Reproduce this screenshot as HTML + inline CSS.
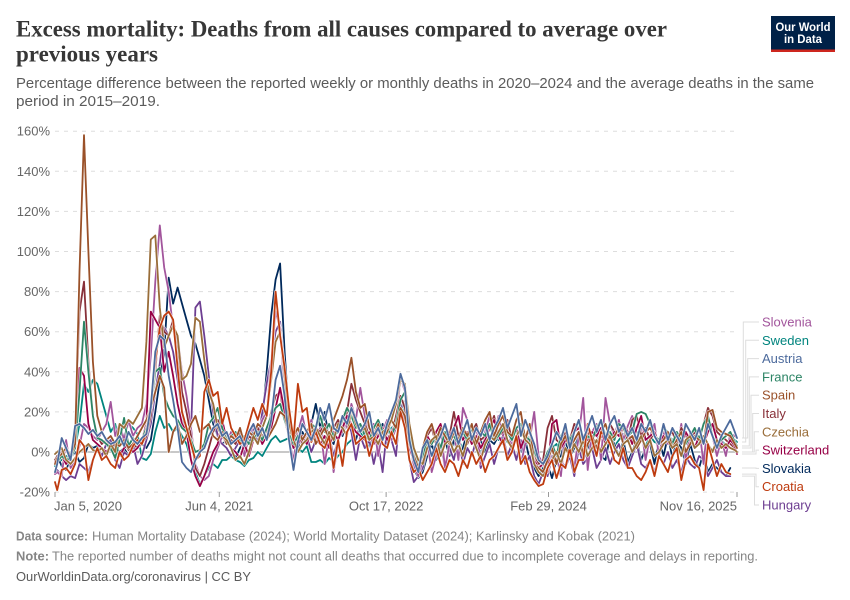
<!DOCTYPE html>
<html lang="en">
<head>
<meta charset="utf-8">
<title>Excess mortality chart</title>
<style>
html,body{margin:0;padding:0;background:#fff;}
svg{display:block;font-family:"Liberation Sans",sans-serif;}
</style>
</head>
<body>
<svg id="chart" xmlns="http://www.w3.org/2000/svg" width="850" height="600" viewBox="0 0 850 600">
  <rect x="0" y="0" width="850" height="600" fill="#ffffff"/>
  <g font-family="'Liberation Serif',serif" font-weight="700" font-size="23.5" fill="#373737">
    <text x="16" y="36.5" textLength="651" lengthAdjust="spacingAndGlyphs">Excess mortality: Deaths from all causes compared to average over</text>
    <text x="16" y="61.5" textLength="142" lengthAdjust="spacingAndGlyphs">previous years</text>
  </g>
  <g font-size="14.5" fill="#5b5b5b">
    <text x="16" y="88" textLength="798" lengthAdjust="spacingAndGlyphs">Percentage difference between the reported weekly or monthly deaths in 2020–2024 and the average deaths in the same</text>
    <text x="16" y="106" textLength="144" lengthAdjust="spacingAndGlyphs">period in 2015–2019.</text>
  </g>
  <g>
    <rect x="771" y="16" width="64" height="36" fill="#002147"/>
    <rect x="771" y="49.5" width="64" height="2.5" fill="#ce261e"/>
    <text x="803" y="31" text-anchor="middle" fill="#ffffff" font-size="12" font-weight="700" textLength="55" lengthAdjust="spacingAndGlyphs">Our World</text>
    <text x="803" y="43" text-anchor="middle" fill="#ffffff" font-size="12" font-weight="700" textLength="38" lengthAdjust="spacingAndGlyphs">in Data</text>
  </g>
  <g id="grid"></g>
  <g id="yticks" font-size="13" fill="#666666" text-anchor="end"></g>
  <g id="xticks" font-size="13" fill="#666666"></g>
  <g id="lines" fill="none" stroke-linejoin="round" stroke-linecap="round"></g>
  <g id="connectors" fill="none" stroke="#dddddd" stroke-width="1"></g>
  <g id="legend" font-size="13"></g>
  <g font-size="13" fill="#858585">
    <text x="16" y="540.5" font-weight="700" textLength="72" lengthAdjust="spacingAndGlyphs">Data source:</text>
    <text x="92" y="540.5" textLength="543" lengthAdjust="spacingAndGlyphs">Human Mortality Database (2024); World Mortality Dataset (2024); Karlinsky and Kobak (2021)</text>
    <text x="16" y="560.5" font-weight="700" textLength="33" lengthAdjust="spacingAndGlyphs">Note:</text>
    <text x="52" y="560.5" textLength="706" lengthAdjust="spacingAndGlyphs">The reported number of deaths might not count all deaths that occurred due to incomplete coverage and delays in reporting.</text>
    <text x="16" y="581" fill="#5b5b5b" textLength="235" lengthAdjust="spacingAndGlyphs">OurWorldinData.org/coronavirus | CC BY</text>
  </g>
</svg>
<script>
const weekOffsets = [0,1,3,5,7,9,11,13,15,17,19,21,23,25,27,29,31,33,35,37,39,41,43,45,47,49,51,53,55,57,59,61,63,65,67,69,71,73,75,77,79,81,83,85,87,89,91,93,95,97,99,101,103,105,107,109,111,113,115,117,119,121,123,125,127,129,131,133,135,137,139,141,143,145,147,149,151,153,155,157,159,161,163,165,167,169,171,173,175,177,179,181,183,185,187,189,191,193,195,197,199,201,203,205,207,209,211,213,215,217,219,221,223,225,227,229,231,233,235,237,239,241,243,245,247,249,251,253,255,257,259,261,263,265,267,269,271,273,275,277,279,281,283,285,287,289,291,293,295,297,299,301,303,305,306];

const yTickValues = [-20,0,20,40,60,80,100,120,140,160];
const xTickWeeks = [0,73.71,148.57,221.43,306];
const xTickLabels = ["Jan 5, 2020","Jun 4, 2021","Oct 17, 2022","Feb 29, 2024","Nov 16, 2025"];

const sweden = [
-7,-5,-4,-2,-3,2,14,34,30,36,
34,26,18,10,14,4,8,14,12,9,
-3,-4,-1,10,18,12,14,10,12,8,
4,-4,-10,-16,-12,-8,-6,-8,-4,-4,
-2,-4,-5,-7,-4,-3,0,-2,2,6,
8,5,6,7,4,2,0,3,-5,-5,
-4,-6,-3,-5,-2,0,4,6,8,10,
6,3,8,10,6,9,12,14,24,20,
4,-4,-6,-1,2,4,-2,3,6,0,
4,6,2,5,8,3,0,4,6,9,
6,8,5,3,7,2,4,8,-4,-6,
-8,-4,2,4,0,3,6,2,5,3,
6,2,5,8,4,7,3,6,9,5,
7,10,6,3,8,5,4,7,9,6,
3,6,8,4,2,5,7,3,1,4,
6,3,5,6,5];

const slovakia = [
-4,-2,-7,-9,-3,0,-5,-3,4,2,
3,-2,4,1,3,0,2,-2,1,3,
4,2,6,20,36,50,87,74,82,74,
66,58,54,46,38,26,14,8,4,6,
2,-3,2,6,4,10,8,16,40,68,
86,94,50,18,4,2,10,6,14,24,
12,20,6,4,14,8,16,12,6,14,
10,6,12,8,14,4,10,12,20,26,
6,-8,-13,-10,-2,4,-4,2,6,-2,
6,-2,2,10,4,12,6,0,6,4,
8,12,6,4,10,0,6,-4,-8,-12,
-8,-6,-13,-4,-2,6,-3,2,8,-4,
2,6,10,-2,-4,8,4,-2,6,-5,
0,6,-4,2,4,-6,6,-2,8,-3,
6,2,-6,4,-4,-8,0,-10,-6,-8,
-10,-12,-8];

const hungary = [
-10,-9,-12,-14,-12,-13,-6,-8,-10,-4,
2,-2,4,6,-4,-8,0,-2,4,-6,
-2,6,14,30,44,62,58,50,36,20,
8,10,72,75,58,38,20,8,4,2,
-2,2,6,0,8,12,4,20,34,46,
60,65,40,10,2,6,4,8,0,6,
12,4,8,-2,6,10,16,10,-4,8,
2,6,-6,4,-10,12,6,-2,24,14,
-4,-15,-12,-8,2,-6,-2,4,-8,2,
-4,8,-6,2,-2,6,-8,-2,4,-6,
2,8,-2,4,-4,6,-6,-2,-12,-16,
-10,-12,-2,-6,-4,-8,-2,-12,2,-6,
-3,2,-8,-4,2,-6,0,4,-4,-8,
-2,4,-6,-8,-4,-10,-2,-6,0,-8,
-4,-10,-2,-6,-8,-2,-4,-12,-8,-4,
-10,-12,-12];

const slovenia = [
-11,-10,-12,6,-8,-5,3,14,12,8,
6,10,14,25,8,14,6,16,8,12,
14,24,48,85,113,92,80,62,58,40,
28,12,-6,-12,-14,-12,-4,2,8,4,
10,6,12,-2,8,14,10,16,20,45,
70,62,28,6,-4,10,18,8,16,6,
12,-6,8,-10,4,18,12,24,16,32,
18,6,14,-2,10,16,6,12,38,30,
4,-6,-12,-4,6,-10,-2,12,-8,4,
10,-4,22,16,4,14,-6,10,18,8,
18,8,14,2,12,-6,4,6,20,-2,
-6,-10,4,-2,-12,10,2,-8,8,27,
-9,10,14,-4,27,14,8,16,6,13,
18,6,12,-4,8,14,-2,10,4,12,
2,14,-4,10,6,12,-6,16,8,-2,
6,-2,9,8,7];

const italy = [
-4,-2,0,-6,-4,10,70,85,45,18,
8,4,6,2,4,3,5,1,4,2,
4,8,18,40,68,60,58,66,54,30,
20,8,-8,-12,-6,2,10,16,12,8,
6,4,10,2,8,6,12,8,10,20,
28,30,16,8,6,12,4,10,8,12,
10,14,8,12,16,10,20,34,26,20,
14,8,10,12,6,14,8,18,28,22,
6,0,-8,2,8,12,4,10,14,8,
20,8,12,4,10,14,6,8,12,18,
8,10,16,6,12,14,8,10,-2,-6,
-4,12,18,6,4,10,6,14,12,8,
10,6,12,8,6,14,10,8,12,6,
16,18,8,12,6,10,4,14,8,10,
4,12,8,6,10,6,14,22,18,10,
8,6,4,2,0];

const switzerland = [
-5,-4,-2,-6,-3,2,42,38,14,6,
4,2,0,3,1,-2,2,4,0,2,
6,14,70,66,62,40,50,38,24,14,
10,-4,-12,-17,-12,-6,0,4,16,6,
2,0,-3,4,-2,6,10,4,8,12,
22,32,20,10,2,4,8,4,10,6,
4,8,2,10,6,12,18,14,10,8,
6,10,4,8,12,6,10,14,20,16,
2,-4,-6,2,8,4,10,14,4,8,
12,18,6,10,4,8,2,6,12,16,
8,4,10,6,12,2,8,4,-4,-8,
-6,-10,14,16,2,6,4,10,12,8,
6,10,8,12,4,6,10,8,14,10,
4,12,18,6,8,10,4,8,6,4,
8,4,10,6,2,8,4,10,14,6,
4,2,6,3,-1];

const france = [
-6,-5,-2,-4,-3,2,30,65,40,18,
7,6,4,2,-3,6,17,3,7,4,
6,12,22,40,42,28,22,18,16,12,
10,6,0,1,4,14,17,22,12,6,
8,10,5,8,4,6,10,6,12,18,
22,24,16,10,4,8,6,10,14,12,
18,10,14,8,10,16,22,18,12,14,
8,6,12,16,10,12,8,14,26,30,
8,0,-6,-2,6,4,8,2,10,6,
8,4,10,6,12,4,10,8,14,6,
8,12,10,6,12,14,8,6,0,-4,
-6,0,4,-2,8,12,6,10,16,4,
8,6,12,16,8,10,6,14,12,8,
10,19,20,19,14,8,6,12,10,4,
10,6,4,8,12,6,14,18,8,4,
6,8,10,5,3];

const spain = [
-6,-3,-1,2,-2,4,90,158,100,45,
18,10,6,8,4,3,6,2,4,8,
12,16,22,30,38,32,0,10,14,4,
8,14,18,10,12,14,8,6,10,4,
8,6,12,4,10,8,14,12,6,10,
14,20,18,10,8,12,6,10,14,4,
8,12,6,16,22,28,36,47,30,22,
24,12,8,14,6,10,16,12,22,18,
4,-2,-8,2,10,14,6,12,8,4,
10,6,12,8,14,4,10,16,20,8,
14,18,10,8,16,20,6,14,-6,-8,
-10,-4,2,-6,4,8,2,6,10,-2,
4,8,2,10,14,6,8,12,4,6,
8,2,6,10,12,8,4,6,10,2,
6,10,0,4,8,6,4,20,21,12,
10,9,8,4,2];

const czechia = [
-1,0,2,-4,-6,-3,0,2,4,1,
0,2,-2,4,0,14,12,16,14,18,
22,55,106,108,72,52,58,63,58,36,
38,44,67,65,46,30,24,12,8,6,
2,-4,-2,-6,0,8,4,12,18,36,
55,60,38,14,6,0,4,6,10,12,
8,4,10,6,14,12,8,22,14,10,
12,6,8,4,10,12,16,24,36,34,
14,2,-4,-6,2,6,8,-2,4,6,
0,4,-2,6,8,2,-4,4,8,6,
10,14,6,2,8,12,6,4,-6,-10,
-12,-8,-4,0,-6,2,-2,4,0,6,
-2,2,6,0,4,8,2,-2,4,6,
0,4,8,2,6,-2,0,4,6,2,
4,-2,6,8,2,4,8,4,0,6,
2,4,2,1,0];

const croatia = [
-15,-19,-9,-8,-11,-6,6,3,-14,-4,
2,-4,-2,-6,-8,0,-4,-2,3,6,
4,10,24,45,62,68,70,66,42,20,
12,4,-4,-2,30,36,28,30,14,22,
12,8,4,6,14,22,16,24,18,40,
80,58,42,22,6,34,20,22,5,10,
4,2,8,-8,6,-7,10,14,4,6,
8,-2,6,12,4,2,10,4,20,12,
-4,-10,-8,-14,-10,-6,2,-6,-10,-4,
-6,-12,-4,-8,0,-6,-2,-10,-4,-2,
2,6,-4,0,8,-6,-2,-10,-14,-17,
-16,-8,-4,-13,-6,-8,2,-10,-4,-4,
14,6,-2,10,8,4,-4,-6,2,-8,
-8,-12,-14,-10,-4,-12,-2,-6,-10,-2,
2,-14,-4,-2,-6,-8,-19,4,-4,-12,
-6,-10,-11];

const austria = [
-10,-6,7,2,-4,13,14,12,9,11,
8,10,6,4,5,8,3,10,6,4,
7,9,22,50,58,56,38,26,12,-5,
-8,-10,-4,0,2,8,12,14,8,10,
4,6,8,3,10,14,8,12,6,16,
36,43,28,6,-9,5,14,10,6,12,
22,16,24,12,10,18,14,22,16,10,
14,20,8,12,6,14,20,26,39,32,
6,-4,-10,2,6,-2,4,8,14,6,
12,4,10,16,6,12,8,14,6,12,
16,22,12,18,24,8,16,10,4,-4,
-6,-2,4,10,6,14,2,10,16,6,
12,18,10,16,6,14,18,10,14,8,
12,6,14,10,16,8,4,14,6,12,
8,4,14,10,6,12,4,14,8,2,
8,12,16,10,7];

const seriesNames = ["Sweden","Slovakia","Hungary","Slovenia","Italy","Switzerland","France","Spain","Czechia","Croatia","Austria"];
const seriesValues = [sweden,slovakia,hungary,slovenia,italy,switzerland,france,spain,czechia,croatia,austria];
const seriesColors = {Slovenia:"#a2559c",Sweden:"#00847e",Austria:"#4c6a9c",France:"#2c8465",Spain:"#9a5129",Italy:"#883039",Czechia:"#996d39",Switzerland:"#970046",Slovakia:"#00295b",Croatia:"#be3b0f",Hungary:"#6d3e91"};
const legendOrder = ["Slovenia","Sweden","Austria","France","Spain","Italy","Czechia","Switzerland","Slovakia","Croatia","Hungary"];

const NS = "http://www.w3.org/2000/svg";
const plotLeft = 55, plotRight = 737, lastWeek = 306;
function xScale(week){ return plotLeft + week / lastWeek * (plotRight - plotLeft); }
function yScale(v){ return 452 - v * 2.005; }
function make(tag, parent, attrs){
  const el = document.createElementNS(NS, tag);
  for (const k in attrs) el.setAttribute(k, attrs[k]);
  parent.appendChild(el);
  return el;
}

const grid = document.getElementById("grid");
const yticks = document.getElementById("yticks");
yTickValues.forEach(function(v){
  const line = make("line", grid, {x1:plotLeft, x2:plotRight + 2, y1:yScale(v), y2:yScale(v), stroke: v === 0 ? "#a8a8a8" : "#dddddd", "stroke-width": v === 0 ? 1.2 : 1, "stroke-dasharray": v === 0 ? "none" : "4 5"});
  
  
  const t = make("text", yticks, {x:50, y:yScale(v) + 4.5});
  
  
  t.textContent = v + "%";
});

const xticks = document.getElementById("xticks");
xTickLabels.forEach(function(label, i){
  const x = xScale(xTickWeeks[i]);
  const tick = make("line", xticks, {x1:x, x2:x, y1:492, y2:497, stroke:"#999999", "stroke-width":1});
  
  
  const anchor = i === 0 ? "start" : (i === xTickLabels.length - 1 ? "end" : "middle");
  const t = make("text", xticks, {x:i === 0 ? x - 1 : x, y:510.5, "text-anchor":anchor});
  
  
  t.textContent = label;
});

const lines = document.getElementById("lines");
const endValues = {};
seriesNames.forEach(function(name, s){
  const vals = seriesValues[s];
  let d = "";
  vals.forEach(function(v, i){
    d += (i === 0 ? "M" : "L") + xScale(weekOffsets[i]).toFixed(1) + " " + yScale(v).toFixed(1);
  });
  endValues[name] = vals[vals.length - 1];
  const halo = make("path", lines, {d:d, stroke:"#ffffff", "stroke-width":3, "stroke-opacity":0.8});
  
  
  const path = make("path", lines, {d:d, stroke:seriesColors[name], "stroke-width":1.8});
  
  
});

const legend = document.getElementById("legend");
const connectors = document.getElementById("connectors");
const elbowX = [743.3,745.7,747.7,749.3,751,752.7,754.3,756,756,756,754.5];
legendOrder.forEach(function(name, i){
  const labelY = 322 + i * 18.3;
  const startY = yScale(endValues[name]);
  const c = make("path", connectors, {d:"M742 " + startY.toFixed(1) + "H" + elbowX[i] + "V" + labelY.toFixed(1) + "H759"});
  
  
  const t = make("text", legend, {x:762, y:labelY + 4.5, fill:seriesColors[name]});
  
  
  t.textContent = name;
});
</script>
</body>
</html>
